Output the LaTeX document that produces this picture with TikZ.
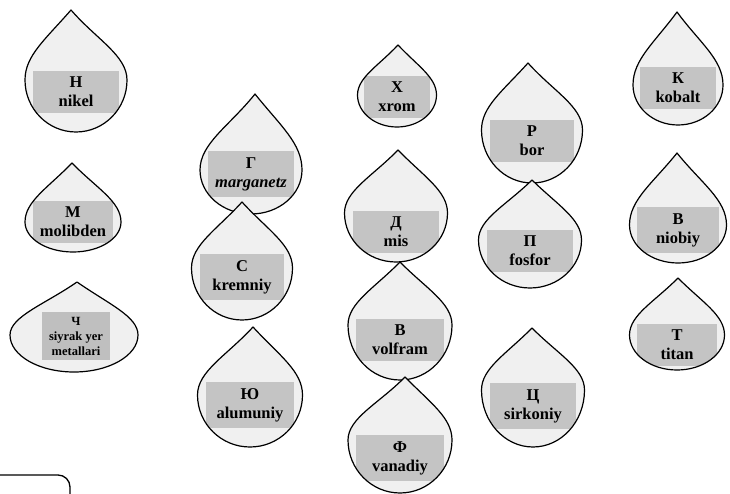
\documentclass[tikz,border=0pt]{standalone}
\usepackage{fontspec}
\setmainfont{Liberation Serif}
\begin{document}
\begin{tikzpicture}[x=1pt,y=-1pt,
  dropfill/.style={fill=black!6},
  dropline/.style={draw=black,line width=1.2,line join=round},
  lbl/.style={fill=black!23,font=\bfseries\fontsize{16.5}{19}\selectfont,align=center,inner ysep=6,inner xsep=2,text=black},
  smalllbl/.style={fill=black!25,font=\bfseries\fontsize{12.5}{15}\selectfont,align=center,inner ysep=5,inner xsep=2,text=black},
  frameline/.style={draw=black,line width=1.3,rounded corners=12}]
\newcommand\tdpath[6]{(#1,#2) .. controls ({#1+0.5*#4/2},{#2+0.42*(#5-#2)}) and ({#3+#4/2},{#5-0.35*(#5-#2)}) .. ({#3+#4/2},#5) arc[start angle=0,end angle=180,x radius={#4/2},y radius={#6-#5}] .. controls ({#3-#4/2},{#5-0.35*(#5-#2)}) and ({#1-0.5*#4/2},{#2+0.42*(#5-#2)}) .. cycle}
\newcommand\drop[9]{%
  \fill[dropfill] \tdpath{#2}{#3}{#4}{#5}{#6}{#7};
  \begin{scope}
    \clip \tdpath{#2}{#3}{#4}{#5}{#6}{#7};
    \node[lbl,minimum width={0.84*#5}] (#1) at (#4,#8) {#9};
  \end{scope}
  \draw[dropline] \tdpath{#2}{#3}{#4}{#5}{#6}{#7};
}
\fill[white] (0,0) rectangle (730,494);
\useasboundingbox (0,0) rectangle (730,494);

\drop{ni}{71}{10}{76}{102}{80}{132}{92}{Н\\nikel}
\drop{mo}{72}{163}{73}{96}{222}{252}{222}{М\\molibden}
% rare earth drop
\fill[dropfill] \tdpath{77}{282}{74}{128}{335}{372};
\begin{scope}
  \clip \tdpath{77}{282}{74}{128}{335}{372};
  \node[smalllbl,minimum width=68] (re) at (76,336) {Ч\\siyrak yer\\metallari};
\end{scope}
\draw[dropline] \tdpath{77}{282}{74}{128}{335}{372};

\drop{mn}{255}{94}{251}{102}{170}{214}{174}{Г\\\textit{marganetz}}
\drop{si}{242}{202}{242}{101}{268}{320}{277}{С\\kremniy}
\drop{al}{253}{327}{250}{105}{395}{447}{405}{Ю\\alumuniy}
\drop{cr}{398}{45}{397}{79}{95}{127}{97}{Х\\xrom}
\drop{cu}{398}{150}{396}{103}{213}{262}{232}{Д\\mis}
\drop{w}{400}{262}{400}{104}{325}{380}{340}{В\\volfram}
\drop{v}{405}{377}{400}{104}{440}{493}{458}{Ф\\vanadiy}
\drop{b}{528}{63}{532}{101}{130}{183}{141}{Р\\bor}
\drop{p}{532}{180}{530}{103}{240}{288}{251}{П\\fosfor}
\drop{zr}{532}{328}{533}{103}{390}{447}{406}{Ц\\sirkoniy}
\drop{co}{677}{12}{678}{90}{85}{125}{88}{К\\kobalt}
\drop{nb}{677}{153}{678}{97}{225}{263}{230}{В\\niobiy}
\drop{ti}{678}{278}{677}{95}{335}{370}{345}{Т\\titan}

\coordinate (fa) at (0,475);
\coordinate (fb) at (70,475);
\coordinate (fc) at (70,494);
\draw[frameline] (fa) -- (fb) -- (fc);
\end{tikzpicture}
\end{document}
